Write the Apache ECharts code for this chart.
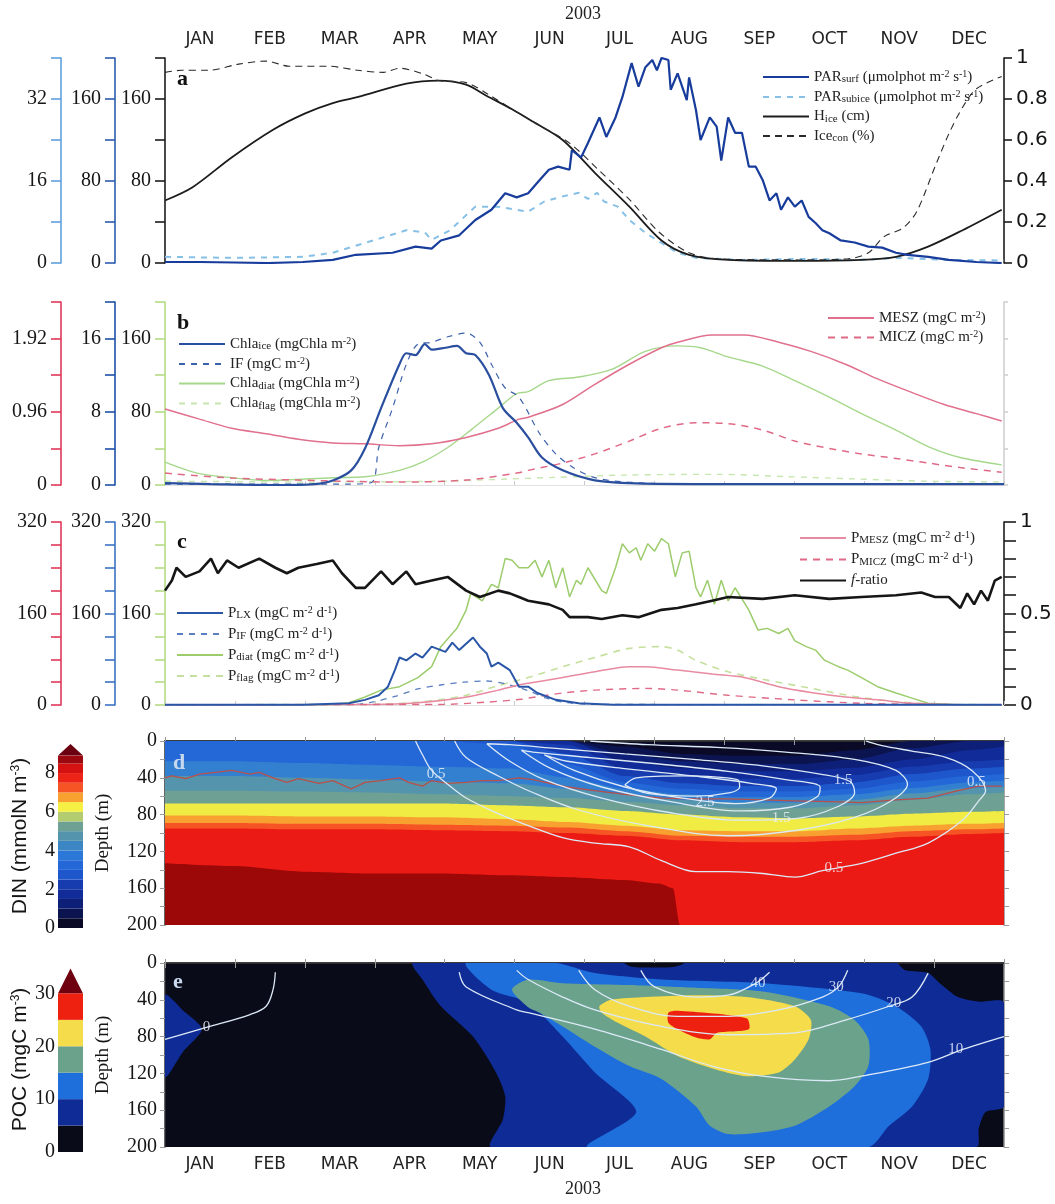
<!DOCTYPE html>
<html>
<head>
<meta charset="utf-8">
<script src="https://cdn.jsdelivr.net/npm/echarts@6/dist/echarts.min.js"></script>
<style>
html,body{margin:0;padding:0;background:#fff}
#chart{width:1055px;height:1204px}
</style>
</head>
<body>
<div id="chart"></div>
<script>
// ---------- time axis ----------
const months = ['JAN','FEB','MAR','APR','MAY','JUN','JUL','AUG','SEP','OCT','NOV','DEC'];
const yearText = '2003';

// ---------- panel a : light and sea ice ([day of year, value]) ----------
const hice = [[0,61],[12,74],[29,103],[47,130],[61,146],[73,156],[84,162],[105,175],[119,178],[131,174],[140,163],[151,150],[160,138],[173,120],[187,88],[202,55],[216,22],[228,8],[245,3],[275,2],[303,3],[318,6],[332,16],[347,32],[364,52]];
const icecon = [[0,0.93],[7,0.94],[19,0.94],[32,0.97],[44,0.985],[54,0.96],[71,0.96],[84,0.94],[95,0.93],[102,0.95],[113,0.92],[119,0.89],[131,0.88],[141,0.82],[151,0.75],[163,0.67],[176,0.585],[189,0.45],[202,0.31],[215,0.15],[228,0.05],[241,0.02],[276,0.015],[297,0.02],[306,0.05],[313,0.13],[321,0.17],[327,0.25],[335,0.47],[341,0.63],[347,0.76],[353,0.85],[364,0.91]];
const parSurf = [[0,1],[15,1],[30,0.5],[45,0],[60,1],[73,3],[83,8],[99,10],[109,16],[116,14],[120,22],[128,27],[135,42],[142,52],[145,60],[148,68],[153,64],[158,68],[163,81],[167,91],[171,94],[176,91],[177,110],[181,103],[184,117],[189,142],[192,123],[196,142],[199,162],[203,195],[206,172],[209,191],[212,198],[214,188],[216,200],[219,198],[220,169],[223,185],[227,159],[228,181],[231,149],[233,120],[237,142],[240,133],[242,100],[245,142],[248,127],[251,127],[254,94],[257,94],[260,81],[263,61],[266,68],[268,52],[271,64],[274,55],[277,61],[280,45],[283,39],[286,32],[289,29],[294,22],[300,20],[306,16],[312,15],[318,10],[323,8],[332,6],[341,3],[353,1],[364,0]];
const parSub = [[0,1.2],[30,1.0],[60,1.2],[73,2],[95,5],[105,6.4],[113,6],[116,4.5],[124,6.4],[135,11],[145,11],[158,10],[165,12],[173,13],[180,13.7],[184,12.5],[188,13.7],[191,12],[197,11],[202,8.4],[209,5.9],[216,3.9],[223,2],[231,1],[250,0.6],[280,0.8],[300,0.6],[320,1],[340,0.6],[365,0.5]];

// ---------- panel b : standing stocks ----------
const chlaIce = [[0,0.2],[20,0.1],[50,0],[65,0.1],[73,0.5],[81,1.6],[87,4],[94,8.4],[102,13.2],[105,14.4],[109,14.2],[113,15.4],[116,14.8],[122,15],[127,15.2],[131,14.4],[135,14.2],[141,12],[147,8.4],[153,6.8],[158,5.2],[164,3],[173,1.6],[187,0.5],[202,0.2],[230,0.1],[365,0.1]];
const iceFauna = [[0,1],[80,1],[90,3],[93,41],[99,84],[105,132],[110,154],[116,156],[123,162],[131,166],[137,156],[142,132],[148,106],[154,96],[163,56],[170,34],[177,20],[187,8],[202,3],[230,1],[365,1]];
const chlaDiat = [[0,2.5],[14,1.3],[29,0.8],[44,0.5],[73,0.8],[87,0.9],[102,1.6],[112,2.5],[123,4.1],[133,6],[145,8.4],[153,10],[158,10.2],[167,11.4],[180,11.8],[194,12.6],[209,14.6],[223,15.2],[233,15],[245,14],[260,13],[274,11.4],[289,9.6],[303,7.8],[318,6],[332,4.2],[346,3],[364,2.2]];
const chlaFlag = [[0,0.05],[60,0.04],[120,0.05],[150,0.08],[170,0.1],[200,0.13],[240,0.14],[270,0.11],[300,0.08],[330,0.05],[364,0.04]];
const mesz = [[0,83],[15,72],[29,62],[44,56],[58,50],[73,46],[87,45],[102,43],[116,45],[131,52],[145,62],[154,72],[158,74],[173,88],[187,110],[202,132],[216,150],[223,156],[238,164],[252,164],[267,156],[281,146],[296,132],[310,116],[324,102],[339,88],[353,78],[364,70]];
const micz = [[0,13],[29,7.6],[58,5.4],[102,3.2],[131,5.4],[153,13],[158,16],[173,24],[187,34],[202,48],[216,62],[231,68],[245,67],[260,60],[274,48],[289,40],[303,34],[318,29],[332,24],[346,19],[364,14]];

// ---------- panel c : production rates and f-ratio ----------
const pLx = [[0,0.5],[60,0.5],[80,3],[87,9],[93,17],[97,32],[100,61],[102,83],[105,78],[109,90],[112,83],[116,102],[122,93],[125,109],[128,96],[134,118],[137,102],[140,90],[142,67],[145,74],[150,61],[154,32],[158,32],[162,21],[170,9],[180,3],[195,0.5],[364,0.5]];
const pIF = [[0,0.5],[80,0.5],[90,5],[100,15],[110,28],[120,35],[130,40],[140,42],[150,35],[158,25],[166,12],[175,4],[190,1],[364,0.5]];
const pDiat = [[0,0.5],[60,0.5],[73,0.5],[80,4],[87,14],[94,26],[102,32],[110,48],[116,67],[120,102],[127,134],[131,166],[133,195],[138,182],[142,211],[145,205],[148,256],[151,253],[154,240],[158,240],[161,253],[164,224],[167,253],[170,205],[173,240],[176,189],[179,218],[181,211],[184,240],[190,200],[192,195],[196,240],[199,282],[202,266],[205,275],[207,253],[210,282],[213,269],[216,291],[219,282],[222,224],[225,266],[228,269],[231,205],[233,189],[236,218],[239,176],[242,218],[245,182],[248,205],[254,166],[258,131],[262,134],[267,125],[271,134],[274,112],[279,102],[283,96],[287,78],[293,67],[297,61],[303,48],[310,32],[318,21],[325,12],[332,3],[346,0],[364,0]];
const pFlag = [[0,0.5],[90,1],[110,5],[130,16],[145,34],[158,48],[173,67],[187,83],[202,99],[216,102],[223,96],[231,78],[245,58],[260,45],[280,30],[300,15],[320,5],[340,1],[364,0.5]];
const pMesz = [[0,0.5],[90,1],[110,4],[130,13],[145,26],[154,35],[158,38],[173,48],[187,58],[202,67],[209,67],[223,61],[238,54],[252,48],[267,32],[281,22],[296,14],[310,9],[325,3],[346,0.5],[364,0.5]];
const pMicz = [[0,0.5],[120,1],[140,5],[155,10],[158,12],[173,21],[187,26],[209,29],[223,26],[245,17],[274,9],[303,3],[330,1],[364,0.5]];
const fRatio = [[0,0.625],[3,0.68],[5,0.75],[9,0.70],[15,0.73],[20,0.80],[23,0.72],[27,0.79],[32,0.75],[41,0.80],[48,0.75],[53,0.72],[58,0.75],[66,0.77],[73,0.79],[77,0.72],[83,0.64],[87,0.64],[94,0.73],[99,0.66],[105,0.73],[109,0.66],[116,0.68],[123,0.70],[131,0.625],[137,0.59],[145,0.625],[150,0.61],[154,0.59],[158,0.57],[167,0.55],[173,0.52],[176,0.48],[184,0.48],[190,0.47],[199,0.49],[206,0.48],[216,0.52],[223,0.53],[231,0.55],[238,0.57],[245,0.59],[260,0.58],[274,0.60],[289,0.58],[303,0.59],[318,0.60],[329,0.615],[335,0.59],[341,0.59],[346,0.53],[349,0.61],[352,0.55],[355,0.625],[358,0.57],[361,0.68],[364,0.70]];

// ---------- panel d : DIN section, depth (m) of each isoline on a day grid ----------
const dinDays = [0,30,60,90,120,150,175,200,225,250,275,300,325,350,365];
const din05 = [0,0,0,0,0,0,0,6,14,16,16,10,0,0,0];
const din10 = [0,0,0,0,0,0,0,14,22,25,25,20,8,0,0];
const din15 = [0,0,0,0,0,0,0,22,30,33,33,29,20,10,6];
const din20 = [0,0,0,0,0,0,4,30,38,41,41,37,28,22,20];
const din25 = [0,0,0,0,0,0,14,38,46,49,49,45,36,30,28];
const din30 = [0,0,0,0,0,4,25,45,52,55,55,52,44,38,36];
const din35 = [22,22,24,26,28,30,40,52,58,61,61,58,51,45,43];
const din45 = [38,38,40,42,44,46,52,58,64,67,67,64,57,51,50];
const din50 = [54,54,55,56,58,60,62,66,70,73,73,70,64,58,56];
const din55 = [68,68,68,68,68,70,72,76,80,83,84,82,79,77,76];
const din65 = [81,81,82,82,83,85,88,92,97,98,98,95,92,90,89];
const din70 = [89,89,90,90,91,92,94,98,103,104,104,102,98,96,95];
const din75 = [95,95,96,96,97,98,100,103,108,110,110,108,104,101,100];
const din85 = [[0,133],[30,136],[60,142],[90,144],[120,144],[150,146],[175,148],[200,151],[215,155],[221,160],[224,200],[365,200]];
const mixedLayer = [[0,40],[3,38],[9,41],[15,36],[22,34],[29,32],[37,36],[41,34],[47,40],[53,45],[58,41],[67,46],[73,43],[81,52],[87,45],[94,43],[102,40],[106,45],[112,49],[116,43],[123,46],[131,45],[138,43],[145,43],[154,40],[160,42],[175,50],[187,54],[200,58],[216,62],[231,63],[245,63],[260,64],[274,65],[290,66],[303,67],[318,64],[332,62],[345,54],[354,49],[364,49]];
// white contours drawn over the DIN field
const dinC05 = [[109,0],[112,15],[116,32],[123,47],[131,62],[145,79],[156,90],[173,105],[187,111],[202,115],[216,130],[231,142],[245,142],[260,144],[274,148],[286,141],[303,133],[318,122],[332,111],[347,86],[354,65],[357,54],[351,32],[340,18],[325,11],[312,5],[305,0]];
const dinC10 = [[126,0],[131,18],[145,38],[160,56],[180,75],[210,92],[245,103],[275,97],[300,83],[316,65],[323,47],[318,32],[300,20],[270,12],[240,7],[210,4],[185,0]];
const dinC15 = [[140,3],[150,22],[165,42],[190,62],[220,78],[250,86],[275,84],[292,72],[300,56],[298,44],[285,36],[260,27],[230,20],[200,14],[170,8],[150,4],[140,3]];
const dinC20 = [[155,10],[168,30],[190,50],[220,66],[250,76],[272,72],[284,60],[285,50],[270,42],[245,33],[215,25],[185,18],[160,12],[155,10]];
const dinC25 = [[165,15],[178,32],[200,50],[225,62],[248,68],[263,62],[266,52],[255,46],[230,38],[200,30],[175,22],[165,15]];
const dinC30 = [[200,48],[205,40],[225,38],[249,42],[250,50],[246,56],[230,60],[210,57],[200,48]];
const dinLabels = [{name:'0.5',value:[118,36]},{name:'0.5',value:[291,138]},{name:'0.5',value:[353,45]},{name:'1.5',value:[295,42]},{name:'2.5',value:[235,66]},{name:'1.5',value:[268,84]}];

// ---------- panel e : POC section, regions as [day, depth] outlines ----------
const pocNavyLeft = [[0,35],[8,52],[16,72],[8,96],[0,124]];
const pocNavyMain = [[108,0],[318,0],[322,8],[332,11],[337,22],[345,37],[354,42],[365,43],[365,156],[357,162],[354,180],[353,200],[142,200],[147,170],[148,145],[144,119],[134,80],[120,47],[112,18]];
const pocBlackTop = [[200,0],[226,0],[222,4],[212,5],[203,4]];
const pocBlue = [[131,0],[170,0],[187,11],[216,18],[260,22],[303,33],[318,47],[329,69],[333,94],[332,126],[325,156],[315,177],[306,200],[184,200],[205,162],[187,119],[173,80],[158,43],[142,29]];
const pocGreen = [[151,29],[158,18],[173,22],[202,24],[231,27],[260,31],[289,47],[300,62],[306,83],[306,112],[300,134],[289,156],[274,177],[260,184],[245,186],[237,177],[231,156],[216,126],[202,112],[187,91],[173,69],[163,54],[158,48]];
const pocYellow = [[189,47],[194,40],[209,37],[231,35],[253,37],[274,47],[281,62],[280,83],[274,105],[267,119],[253,123],[240,116],[223,101],[209,80],[197,65],[190,54]];
const pocRed = [[219,54],[223,52],[253,60],[254,72],[240,76],[237,83],[231,81],[223,72],[219,65]];
const pocC0 = [[0,83],[18,70],[37,56],[44,47],[47,29],[48,10]];
const pocC10 = [[128,10],[131,26],[153,51],[158,54],[187,72],[216,94],[238,112],[260,123],[289,128],[303,123],[332,108],[347,94],[361,83],[365,80]];
const pocC20 = [[153,8],[158,18],[173,37],[187,51],[216,69],[245,78],[274,76],[296,62],[315,47],[325,37],[332,11]];
const pocC30 = [[180,8],[187,29],[202,47],[223,58],[245,58],[267,51],[286,37],[293,26],[297,8]];
const pocC40 = [[207,8],[213,26],[231,37],[245,35],[257,22],[263,10]];
const pocLabels = [{name:'0',value:[18,70]},{name:'40',value:[258,22]},{name:'30',value:[292,26]},{name:'20',value:[317,44]},{name:'10',value:[344,94]}];

// ---------- colour scales ----------
const dinBounds = [0,0.5,1,1.5,2,2.5,3,3.5,4,4.5,5,5.5,6,6.5,7,7.5,8,8.5,8.9];
const dinColors = ['#0a0a26','#0c1450','#0e1f78','#112c98','#173cb0','#1e56cc','#2468d8','#2c78d8','#3c86c4','#5494ac','#6ea094','#b4cc70','#f6f044','#f8a030','#f65424','#ec2418','#d41212','#9c0810'];
const pocBounds = [0,5,10,15,20,25,30];
const pocColors = ['#0a0b18','#0f2c96','#1e6edc','#6aa28c','#f5dc4a','#ee2010'];

// ---------- helpers ----------
const SERIF = 'Liberation Serif', SANS = 'DejaVu Sans';
const TXT = '#161616';

function shownOnly(list) {
  return v => { const hit = list.find(s => Math.abs(s - v) < 1e-6); return hit === undefined ? '' : String(hit); };
}
function leftAxis(grid, offset, max, interval, color, shown) {
  return {
    type:'value', gridIndex:grid, position:'left', offset, min:0, max, interval,
    axisLine:{show:true, onZero:false, lineStyle:{color, width:1.6}},
    axisTick:{show:true, inside:false, length:10, lineStyle:{color, width:1.6}},
    splitLine:{show:false},
    axisLabel:{margin:14, fontFamily:SERIF, fontSize:20, color:TXT, formatter:shownOnly(shown)}
  };
}
function line(name, data, xi, yi, color, width, dash, smooth, z) {
  return {
    name, type:'line', data, xAxisIndex:xi, yAxisIndex:yi, symbol:'none', smooth:smooth || false,
    lineStyle:{color, width, type:dash || 'solid'}, itemStyle:{color}, z:z || 2, animation:false
  };
}
function isoArea(depths, color) {
  const data = Array.isArray(depths[0]) ? depths : dinDays.map((d, i) => [d, depths[i]]);
  return {
    type:'line', data, xAxisIndex:3, yAxisIndex:12, symbol:'none', smooth:0.25, smoothMonotone:'x',
    lineStyle:{width:0}, areaStyle:{color, opacity:1, origin:'end'}, silent:true, z:1
  };
}
function contour(data, xi, yi) {
  return {type:'line', data, xAxisIndex:xi, yAxisIndex:yi, symbol:'none', smooth:0.35,
    lineStyle:{color:'#dce9f6', width:1.3}, silent:true, z:4};
}
function contourLabels(data, xi, yi) {
  return {type:'scatter', data, xAxisIndex:xi, yAxisIndex:yi, symbolSize:0, silent:true, z:5,
    label:{show:true, position:'inside', formatter:'{b}', color:'#eef4ff', fontFamily:SERIF, fontSize:15}};
}
function monthAxis(grid, position, opts) {
  return Object.assign({
    type:'category', gridIndex:grid, position, data:months, boundaryGap:true,
    axisLine:{show:false}, axisTick:{show:false}, axisLabel:{show:false}, splitLine:{show:false}
  }, opts);
}

// ---------- legend text ----------
const unitsD = '{n| (mgC m}{p|-2}{n| d}{p|-1}{n|)}';
const legendText = {
  'PARsurf':'{n|PAR}{s|surf}{n| (μmolphot m}{p|-2}{n| s}{p|-1}{n|)}',
  'PARsubice':'{n|PAR}{s|subice}{n| (μmolphot m}{p|-2}{n| s}{p|-1}{n|)}',
  'Hice':'{n|H}{s|ice}{n| (cm)}',
  'Icecon':'{n|Ice}{s|con}{n| (%)}',
  'Chlaice':'{n|Chla}{s|ice}{n| (mgChla m}{p|-2}{n|)}',
  'IF':'{n|IF (mgC m}{p|-2}{n|)}',
  'Chladiat':'{n|Chla}{s|diat}{n| (mgChla m}{p|-2}{n|)}',
  'Chlaflag':'{n|Chla}{s|flag}{n| (mgChla m}{p|-2}{n|)}',
  'MESZ':'{n|MESZ (mgC m}{p|-2}{n|)}',
  'MICZ':'{n|MICZ (mgC m}{p|-2}{n|)}',
  'PLX':'{n|P}{s|LX}' + unitsD,
  'PIF':'{n|P}{s|IF}' + unitsD,
  'Pdiat':'{n|P}{s|diat}' + unitsD,
  'Pflag':'{n|P}{s|flag}' + unitsD,
  'PMESZ':'{n|P}{s|MESZ}' + unitsD,
  'PMICZ':'{n|P}{s|MICZ}' + unitsD,
  'f-ratio':'{i|f}{n|-ratio}'
};
const richStyle = {
  n:{fontFamily:SERIF, fontSize:15, color:'#222', lineHeight:16},
  i:{fontFamily:SERIF, fontSize:15, fontStyle:'italic', color:'#222', lineHeight:16},
  s:{fontFamily:SERIF, fontSize:11, color:'#222', lineHeight:16, verticalAlign:'bottom'},
  p:{fontFamily:SERIF, fontSize:10, color:'#222', lineHeight:16, verticalAlign:'top'}
};
function legendBox(names, left, top, gap) {
  return {orient:'vertical', left, top, itemWidth:46, itemHeight:14, itemGap:gap, data:names,
    selectedMode:false, formatter:n => legendText[n], itemStyle:{opacity:0},
    textStyle:{fontFamily:SERIF, fontSize:15, color:'#222', rich:richStyle}};
}

// ---------- axes ----------
const gridBox = {left:165, right:51, containLabel:false, outerBoundsMode:'none'};
const grids = [
  Object.assign({top:58, height:205}, gridBox),
  Object.assign({top:302, height:183}, gridBox),
  Object.assign({top:522, height:183}, gridBox),
  Object.assign({top:741, height:184, show:true, backgroundColor:dinColors[0], borderWidth:0}, gridBox),
  Object.assign({top:963, height:184, show:true, backgroundColor:pocColors[0], borderWidth:0}, gridBox),
  {left:58, width:25, top:744, height:184, containLabel:false, outerBoundsMode:'none'},
  {left:58, width:25, top:967, height:185, containLabel:false, outerBoundsMode:'none'}
];

const xAxes = [0,1,2,3,4].map(g => ({type:'value', gridIndex:g, min:0, max:365, show:false}));
xAxes.push(
  monthAxis(0, 'top', {axisLabel:{show:true, margin:10, fontFamily:SANS, fontSize:17, color:'#222'}}),
  monthAxis(1, 'bottom', {axisLine:{show:true, lineStyle:{color:'#e2e2e2'}}, axisTick:{show:true, inside:true, length:4, lineStyle:{color:'#c8c8c8'}}}),
  monthAxis(2, 'bottom', {axisLine:{show:true, lineStyle:{color:'#e2e2e2'}}, axisTick:{show:true, inside:true, length:4, lineStyle:{color:'#c8c8c8'}}}),
  monthAxis(3, 'bottom', {axisLine:{show:true, lineStyle:{color:'#303030', width:1.5}}, axisTick:{show:true, length:4, lineStyle:{color:'#9a9a9a'}}}),
  monthAxis(3, 'top', {axisLine:{show:true, lineStyle:{color:'#303030', width:1.5}}, axisTick:{show:true, length:4, lineStyle:{color:'#9a9a9a'}}}),
  monthAxis(4, 'bottom', {axisLine:{show:true, lineStyle:{color:'#303030', width:1.5}}, axisTick:{show:true, length:5, lineStyle:{color:'#9a9a9a'}},
    axisLabel:{show:true, margin:9, fontFamily:SANS, fontSize:17, color:'#222'}}),
  monthAxis(4, 'top', {axisLine:{show:true, lineStyle:{color:'#303030', width:1.5}}, axisTick:{show:true, length:4, lineStyle:{color:'#9a9a9a'}}}),
  {type:'category', gridIndex:5, data:['c'], show:false},
  {type:'category', gridIndex:6, data:['c'], show:false}
);

function rightAxis(grid, interval, shown, tickLen, color, labels) {
  return {
    type:'value', gridIndex:grid, position:'right', min:0, max:1, interval,
    axisLine:{show:true, onZero:false, lineStyle:{color, width:1.6}},
    axisTick:{show:true, length:tickLen, lineStyle:{color, width:1.6}},
    splitLine:{show:false},
    axisLabel:{show:labels, margin:tickLen + 4, fontFamily:SANS, fontSize:20, color:TXT, formatter:shownOnly(shown)}
  };
}
function depthAxis(grid, pos) {
  const left = pos === 'left';
  return {
    type:'value', gridIndex:grid, position:pos, inverse:true, min:0, max:200, interval:20,
    name: left ? 'Depth (m)' : '', nameLocation:'middle', nameGap:52, nameRotate:90,
    nameTextStyle:{fontFamily:SERIF, fontSize:19, color:TXT},
    axisLine:{show:true, onZero:false, lineStyle:{color: left ? '#303030' : '#8a8a8a', width:1.5}},
    axisTick:{show:true, length:5, lineStyle:{color:'#9a9a9a'}},
    splitLine:{show:false},
    axisLabel:{show:left, margin:8, fontFamily:SERIF, fontSize:20, color:TXT, formatter:shownOnly([0,40,80,120,160,200])}
  };
}
function barAxis(grid, max, shown, name) {
  return {
    type:'value', gridIndex:grid, position:'left', min:0, max,
    name, nameLocation:'middle', nameGap:27, nameRotate:90,
    nameTextStyle:{fontFamily:'Liberation Sans', fontSize:21, color:TXT,
      rich:{n:{fontFamily:'Liberation Sans', fontSize:21, color:TXT}, p:{fontFamily:'Liberation Sans', fontSize:12, color:TXT, verticalAlign:'top'}}},
    axisLine:{show:false}, axisTick:{show:false}, splitLine:{show:false},
    axisLabel:{margin:3, fontFamily:SERIF, fontSize:20, color:TXT, formatter:shownOnly(shown)}
  };
}

const yAxes = [
  // panel a
  leftAxis(0, 0, 200, 40, '#1c1c1c', [0,80,160]),
  leftAxis(0, 50, 200, 40, '#2b5cb0', [0,80,160]),
  leftAxis(0, 104, 40, 8, '#5ea0dc', [0,16,32]),
  rightAxis(0, 0.2, [0,0.2,0.4,0.6,0.8,1], 8, '#1c1c1c', true),
  // panel b
  leftAxis(1, 0, 200, 40, '#b4dc84', [0,80,160]),
  leftAxis(1, 50, 20, 4, '#1e50a8', [0,8,16]),
  leftAxis(1, 104, 2.4, 0.48, '#e0385a', [0,0.96,1.92]),
  rightAxis(1, 0.2, [], 4, '#d0d0d0', false),
  // panel c
  leftAxis(2, 0, 320, 40, '#b4dc84', [0,160,320]),
  leftAxis(2, 50, 320, 40, '#3a72c4', [0,160,320]),
  leftAxis(2, 104, 320, 40, '#e0385a', [0,160,320]),
  rightAxis(2, 0.1, [0,0.5,1], 12, '#1c1c1c', true),
  // panels d and e
  depthAxis(3, 'left'), depthAxis(3, 'right'),
  depthAxis(4, 'left'), depthAxis(4, 'right'),
  // colour bars
  barAxis(5, 9.5, [0,2,4,6,8], '{n|DIN (mmolN m}{p|-3}{n|)}'),
  barAxis(6, 35, [0,10,20,30], '{n|POC (mgC m}{p|-3}{n|)}')
];

// ---------- series ----------
const series = [
  // a
  line('Hice', hice, 0, 0, '#1c1c1c', 1.8, 'solid', 0.3, 3),
  line('Icecon', icecon, 0, 3, '#2a2a2a', 1.1, [7,5], 0.3, 3),
  line('PARsubice', parSub, 0, 2, '#86c0e6', 2, [6,6], false, 2),
  line('PARsurf', parSurf, 0, 1, '#173c9c', 2.2, 'solid', false, 4),
  // b
  line('Chlaice', chlaIce, 1, 5, '#2a4f9e', 2.2, 'solid', 0.3, 4),
  line('IF', iceFauna, 1, 4, '#3d62ac', 1.2, [6,6], 0.3, 3),
  line('Chladiat', chlaDiat, 1, 5, '#a6d88c', 1.4, 'solid', 0.3, 2),
  line('Chlaflag', chlaFlag, 1, 6, '#c8e6b0', 1.4, [6,6], 0.3, 2),
  line('MESZ', mesz, 1, 4, '#e0708c', 1.5, 'solid', 0.3, 3),
  line('MICZ', micz, 1, 4, '#e06a86', 1.5, [7,6], 0.3, 3),
  // c
  line('PLX', pLx, 2, 9, '#2a56a8', 2, 'solid', false, 4),
  line('PIF', pIF, 2, 9, '#5a7ec0', 1.3, [6,6], 0.3, 3),
  line('Pdiat', pDiat, 2, 8, '#9ccc6c', 1.5, 'solid', false, 2),
  line('Pflag', pFlag, 2, 8, '#c4e09c', 1.6, [7,6], 0.3, 2),
  line('PMESZ', pMesz, 2, 10, '#e88aa0', 1.5, 'solid', 0.3, 3),
  line('PMICZ', pMicz, 2, 10, '#e06a86', 1.4, [7,6], 0.3, 3),
  line('f-ratio', fRatio, 2, 11, '#161616', 2.6, 'solid', false, 5)
];

// d : filled DIN bands, each isoline shaded down to the bottom
[[din05,'#0c1450'],[din10,'#0e1f78'],[din15,'#112c98'],[din20,'#173cb0'],[din25,'#1e56cc'],[din30,'#2468d8'],
 [din35,'#3480d0'],[din45,'#5494ac'],[din50,'#6ea094'],[din55,'#f0ec44'],[din65,'#f8a030'],[din70,'#f65424'],
 [din75,'#ec1a14'],[din85,'#9c0808']].forEach(([d, c]) => series.push(isoArea(d, c)));
series.push({type:'line', data:mixedLayer, xAxisIndex:3, yAxisIndex:12, symbol:'none', lineStyle:{color:'#b8504a', width:1.3}, silent:true, z:3});
[dinC05, dinC10, dinC15, dinC20, dinC25, dinC30].forEach(c => series.push(contour(c, 3, 12)));
series.push(contourLabels(dinLabels, 3, 12));

// e : POC regions
const pocRegions = [[pocNavyLeft,pocColors[1]],[pocNavyMain,pocColors[1]],[pocBlackTop,pocColors[0]],
  [pocBlue,pocColors[2]],[pocGreen,pocColors[3]],[pocYellow,pocColors[4]],[pocRed,pocColors[5]]];
series.push({
  type:'custom', xAxisIndex:4, yAxisIndex:14, clip:true, silent:true, z:1,
  data: pocRegions.map(r => [r[0][0][0], r[0][0][1]]), encode:{x:0, y:1},
  renderItem: (params, api) => {
    const reg = pocRegions[params.dataIndex];
    return {type:'polygon', shape:{points: reg[0].map(p => api.coord(p)), smooth:0.25}, style:{fill: reg[1]}};
  }
});
[pocC0, pocC10, pocC20, pocC30, pocC40].forEach(c => series.push(contour(c, 4, 14)));
series.push(contourLabels(pocLabels, 4, 14));

// colour bars
function colourBar(bounds, colors, xi, yi, stack) {
  for (let i = 0; i < colors.length; i++) {
    series.push({type:'bar', stack, xAxisIndex:xi, yAxisIndex:yi, barWidth:'100%', silent:true,
      data:[bounds[i + 1] - bounds[i]], itemStyle:{color:colors[i]}});
  }
}
colourBar(dinBounds, dinColors, 12, 16, 'din');
colourBar(pocBounds, pocColors, 13, 17, 'poc');
function arrowHead(xi, yi, base, tip, color) {
  series.push({type:'custom', xAxisIndex:xi, yAxisIndex:yi, silent:true, data:[[0, tip]],
    renderItem: (params, api) => {
      const b = api.coord([0, base]), t = api.coord([0, tip]), w = api.size([1, 0])[0] / 2;
      return {type:'polygon', shape:{points:[[b[0] - w, b[1]], [b[0] + w, b[1]], [t[0], t[1]]]}, style:{fill:color}};
    }});
}
arrowHead(12, 16, 8.9, 9.5, '#6a0010');
arrowHead(13, 17, 30, 34.7, '#6e0010');

// ---------- text marks ----------
const graphic = [
  {type:'text', left:565, top:5, style:{text:yearText, font:'18px "Liberation Serif"', fill:'#222'}},
  {type:'text', left:565, top:1180, style:{text:yearText, font:'18px "Liberation Serif"', fill:'#222'}},
  {type:'text', left:177, top:68, style:{text:'a', font:'bold 22px "Liberation Serif"', fill:'#111'}},
  {type:'text', left:177, top:312, style:{text:'b', font:'bold 22px "Liberation Serif"', fill:'#111'}},
  {type:'text', left:177, top:531, style:{text:'c', font:'bold 22px "Liberation Serif"', fill:'#111'}},
  {type:'text', left:173, top:752, style:{text:'d', font:'bold 22px "Liberation Serif"', fill:'#c8d8ee'}, z:10},
  {type:'text', left:173, top:971, style:{text:'e', font:'bold 22px "Liberation Serif"', fill:'#c8d8ee'}, z:10}
];

const chart = echarts.init(document.getElementById('chart'), null, {renderer:'canvas'});
chart.setOption({
  animation:false,
  backgroundColor:'#ffffff',
  grid:grids,
  xAxis:xAxes,
  yAxis:yAxes,
  legend:[
    legendBox(['PARsurf','PARsubice','Hice','Icecon'], 757, 64, 4),
    legendBox(['Chlaice','IF','Chladiat','Chlaflag'], 173, 331, 4),
    legendBox(['MESZ','MICZ'], 822, 305, 4),
    legendBox(['PLX','PIF','Pdiat','Pflag'], 171, 600, 5),
    legendBox(['PMESZ','PMICZ','f-ratio'], 794, 525, 5.5)
  ],
  graphic,
  series
});
</script>
</body>
</html>
